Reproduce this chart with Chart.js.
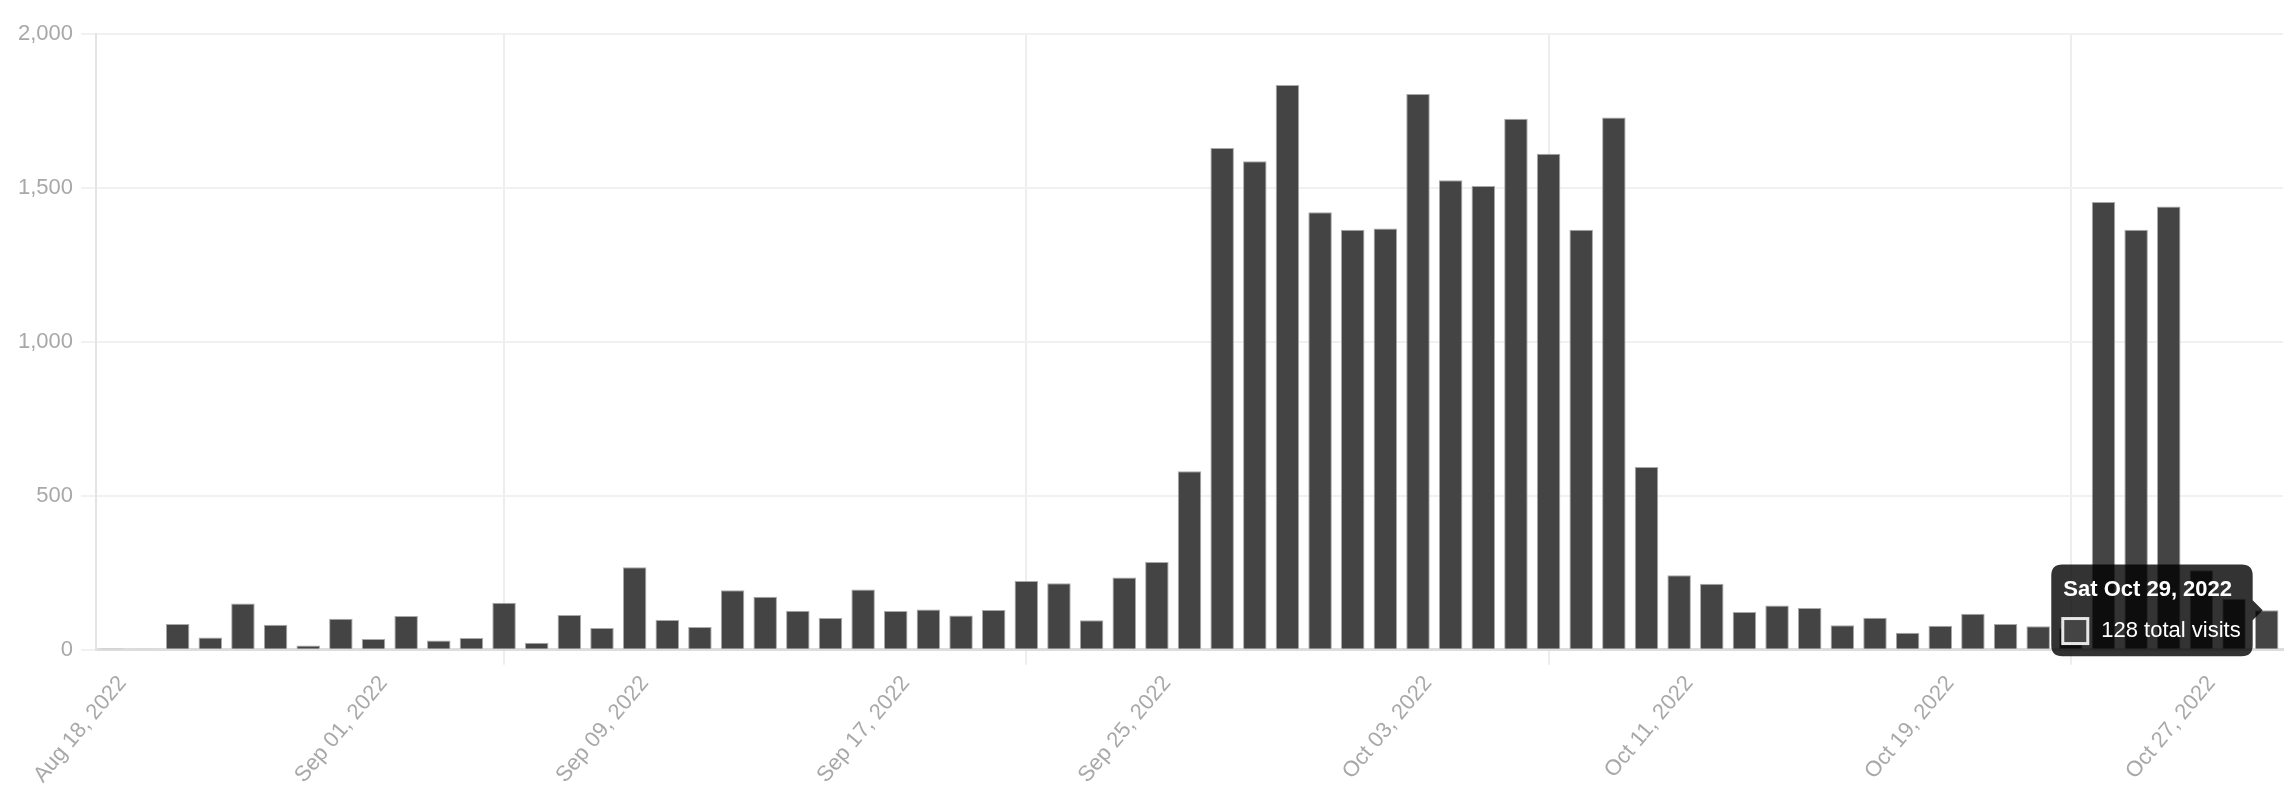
<!DOCTYPE html>
<html>
<head>
<meta charset="utf-8">
<script src="https://cdn.jsdelivr.net/npm/chart.js@4.4.0/dist/chart.umd.min.js"></script>
<style>
  html, body { margin: 0; padding: 0; background: #fff; }
  #wrap { width: 2293px; height: 802px; }
</style>
</head>
<body>
<div id="wrap"><canvas id="myChart" width="2293" height="802"></canvas></div>
<script>
// one bar per day that has data
var days = [
    '2022-08-18','2022-08-25','2022-08-26','2022-08-27','2022-08-28','2022-08-29','2022-08-30','2022-08-31',
    '2022-09-01','2022-09-02','2022-09-03','2022-09-04','2022-09-05','2022-09-06','2022-09-07','2022-09-08',
    '2022-09-09','2022-09-10','2022-09-11','2022-09-12','2022-09-13','2022-09-14','2022-09-15','2022-09-16',
    '2022-09-17','2022-09-18','2022-09-19','2022-09-20','2022-09-21','2022-09-22','2022-09-23','2022-09-24',
    '2022-09-25','2022-09-26','2022-09-27','2022-09-28','2022-09-29','2022-09-30','2022-10-01','2022-10-02',
    '2022-10-03','2022-10-04','2022-10-05','2022-10-06','2022-10-07','2022-10-08','2022-10-09','2022-10-10',
    '2022-10-11','2022-10-12','2022-10-13','2022-10-14','2022-10-15','2022-10-16','2022-10-17','2022-10-18',
    '2022-10-19','2022-10-20','2022-10-21','2022-10-22','2022-10-23','2022-10-24','2022-10-25','2022-10-26',
    '2022-10-27','2022-10-28','2022-10-29'
];
var visits = [
    2, 4, 84, 40, 150, 81, 14, 101,
    35, 110, 30, 38, 153, 23, 113, 71,
    268, 97, 74, 193, 172, 127, 103, 196,
    126, 131, 111, 129, 223, 216, 96, 235,
    285, 580, 1630, 1587, 1834, 1421, 1364, 1368,
    1805, 1525, 1506, 1725, 1611, 1364, 1729, 594,
    242, 214, 123, 144, 136, 80, 104, 55,
    78, 117, 84, 76, 70, 1454, 1364, 1440,
    258, 166, 128
];
var yTicks = [0, 500, 1000, 1500, 2000];

var monthNames = ['Jan','Feb','Mar','Apr','May','Jun','Jul','Aug','Sep','Oct','Nov','Dec'];
var dayNames = ['Sun','Mon','Tue','Wed','Thu','Fri','Sat'];

function parseDay(s) {
    var p = s.split('-');
    return new Date(+p[0], +p[1] - 1, +p[2]);
}
function pad2(n) { return n < 10 ? '0' + n : '' + n; }
function tickLabel(s) {
    var d = parseDay(s);
    return monthNames[d.getMonth()] + ' ' + pad2(d.getDate()) + ', ' + d.getFullYear();
}
function tipTitle(s) {
    var d = parseDay(s);
    return dayNames[d.getDay()] + ' ' + monthNames[d.getMonth()] + ' ' + d.getDate() + ', ' + d.getFullYear();
}

var fontFamily = '"Liberation Sans", Arial, Helvetica, sans-serif';

var chartdata = {
    labels: days,
    datasets: [{
        label: 'total visits',
        data: visits,
        backgroundColor: '#444444',
        hoverBackgroundColor: '#444444',
        borderColor: '#a9a9a9',
        hoverBorderColor: '#a9a9a9',
        borderWidth: 1
    }]
};

var options = {
    responsive: false,
    animation: false,
    devicePixelRatio: 1,
    layout: { padding: { left: 10, top: 34, right: 10, bottom: 8 } },
    plugins: {
        legend: { display: false },
        tooltip: {
            backgroundColor: 'rgba(0,0,0,0.8)',
            titleFont: { family: fontFamily, size: 22, weight: 'bold' },
            bodyFont: { family: fontFamily, size: 22 },
            padding: 12,
            titleMarginBottom: 15,
            caretSize: 10,
            caretPadding: 4,
            cornerRadius: 11,
            boxWidth: 24,
            boxHeight: 24,
            boxPadding: 12,
            callbacks: {
                title: function(items) { return tipTitle(days[items[0].dataIndex]); },
                label: function(item) { return item.raw.toLocaleString('en-US') + ' total visits'; },
                labelColor: function() {
                    return { borderColor: '#e6e6e6', backgroundColor: '#444444', borderWidth: 4 };
                }
            }
        }
    },
    scales: {
        x: {
            grid: {
                offset: false,
                lineWidth: 2,
                tickLength: 15,
                color: function(ctx) {
                    return (ctx.index !== undefined && ctx.index % 16 === 12) ? '#eeeeee' : 'rgba(0,0,0,0)';
                }
            },
            border: { color: '#dddddd', width: 3 },
            ticks: {
                autoSkip: false,
                minRotation: 50,
                maxRotation: 50,
                padding: 6,
                labelOffset: 10,
                color: '#a8a8a8',
                font: { family: fontFamily, size: 22 },
                callback: function(value, index) {
                    return index % 8 === 0 ? tickLabel(days[index]) : '';
                }
            }
        },
        y: {
            min: yTicks[0],
            max: yTicks[yTicks.length - 1],
            afterBuildTicks: function(scale) {
                scale.ticks = yTicks.map(function(v) { return { value: v }; });
            },
            grid: { color: '#f1f1f1', lineWidth: 2, tickLength: 15 },
            border: { color: '#e4e4e4', width: 2 },
            ticks: {
                padding: 8,
                color: '#a8a8a8',
                font: { family: fontFamily, size: 22 }
            }
        }
    }
};

var graph = new Chart(document.getElementById('myChart'), {
    type: 'bar',
    data: chartdata,
    options: options
});

// show the tooltip on the last day, as in the screenshot
var last = visits.length - 1;
var el = graph.getDatasetMeta(0).data[last];
graph.tooltip.setActiveElements([{ datasetIndex: 0, index: last }], { x: el.x, y: el.y });
graph.update();
</script>
</body>
</html>
